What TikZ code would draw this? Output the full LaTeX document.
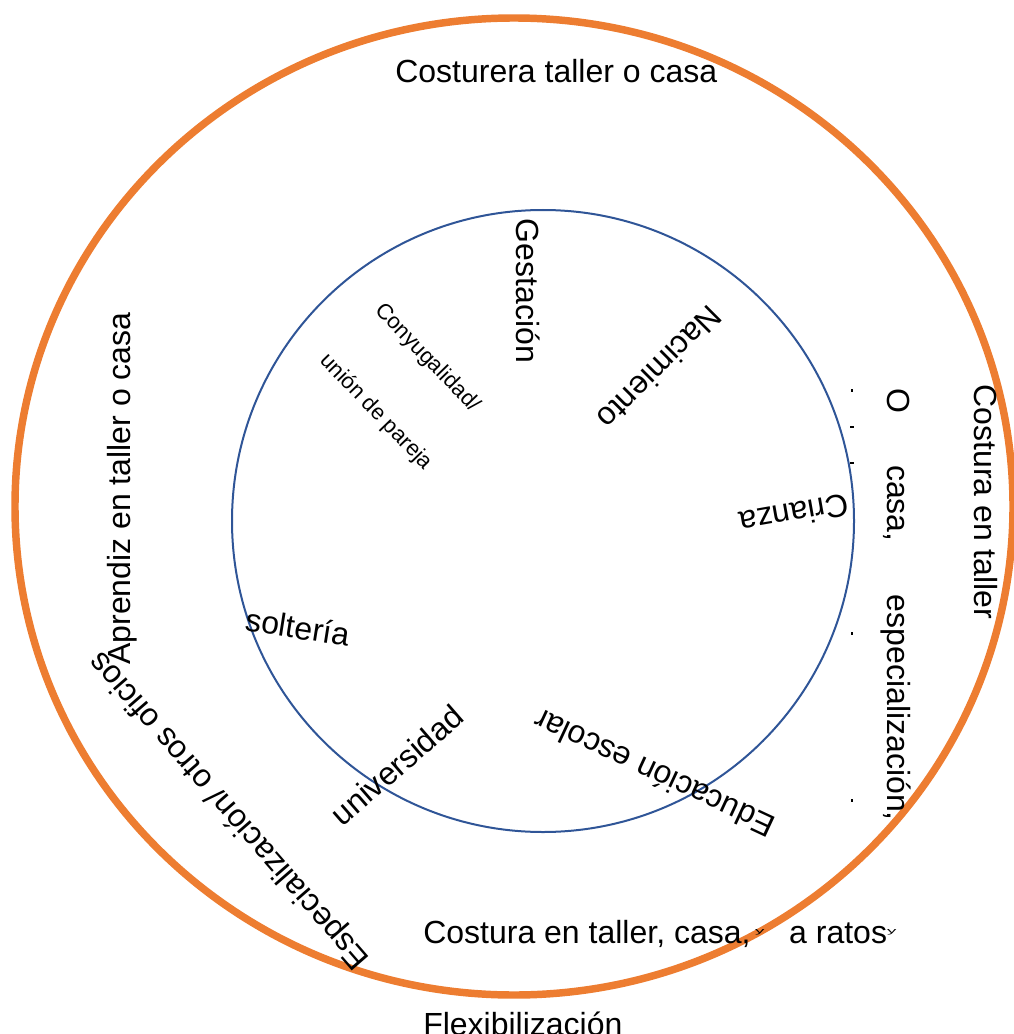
\documentclass[tikz,border=0pt]{standalone}
\usepackage{fontspec}
\setmainfont{Liberation Sans}
\definecolor{ringorange}{HTML}{ED7D31}
\definecolor{ringblue}{HTML}{2F5597}
\newcommand{\squashy}{\raisebox{7.5pt}{\resizebox{7pt}{3pt}{y}}}
\begin{document}
\begin{tikzpicture}[x=0.75pt,y=-0.75pt,
  lbl/.style={font=\fontsize{24}{28}\selectfont, inner sep=0pt, text=black},
  smalllbl/.style={font=\fontsize{16.5}{19}\selectfont, inner sep=0pt, text=black},
  outerring/.style={draw=ringorange, line width=5.6pt},
  innerring/.style={draw=ringblue, line width=1.5pt},
  stray/.style={fill=black}]
\useasboundingbox (0,0) rectangle (1013,1034);
% rings
\draw[outerring] (514,506.5) ellipse [x radius=499, y radius=488.5];
\draw[innerring] (543,521) circle [radius=311];
% outer ring labels
\node[lbl, anchor=base west] (costurera) at (395,83) {Costurera taller o casa};
\node[lbl, anchor=base west] (costura) at (423,943) {Costura en taller, casa,\hspace{3.5pt}\squashy\hspace{18.5pt}a ratos\squashy};
\node[lbl, anchor=base west] (flex) at (423,1035) {Flexibilización};
\node[lbl, rotate=90, anchor=base west] (aprendiz) at (130,665) {Aprendiz en taller o casa};
\node[lbl, rotate=131] (espec) at (230,810) {Especialización/ otros oficios};
\node[lbl, rotate=-90] (costtaller) at (985.5,502) {Costura en taller};
\node[lbl, rotate=-90, anchor=base west] (ocasa) at (887,388) {O\hspace{39pt}casa,\hspace{40pt}especialización,};
% stray marks
\fill[stray] (851,389) rectangle (853,392);
\fill[stray] (850,426) rectangle (854,428);
\fill[stray] (850,462) rectangle (854,464);
\fill[stray] (851,632) rectangle (853,635);
\fill[stray] (851,799) rectangle (853,802);
% inner ring labels
\node[lbl, rotate=-90] (gest) at (528,291) {Gestación};
\node[lbl, rotate=-135] (nac) at (660,368) {Nacimiento};
\node[lbl, rotate=190] (cri) at (794,514) {Crianza};
\node[lbl, rotate=155] (edu) at (654,774) {Educación escolar};
\node[lbl, rotate=41] (uni) at (397,765) {universidad};
\node[lbl, rotate=-9] (sol) at (298,627) {soltería};
\node[smalllbl, rotate=-46] (cony) at (427,358) {Conyugalidad/};
\node[smalllbl, rotate=-46] (union) at (376,412) {unión de pareja};
\end{tikzpicture}
\end{document}
